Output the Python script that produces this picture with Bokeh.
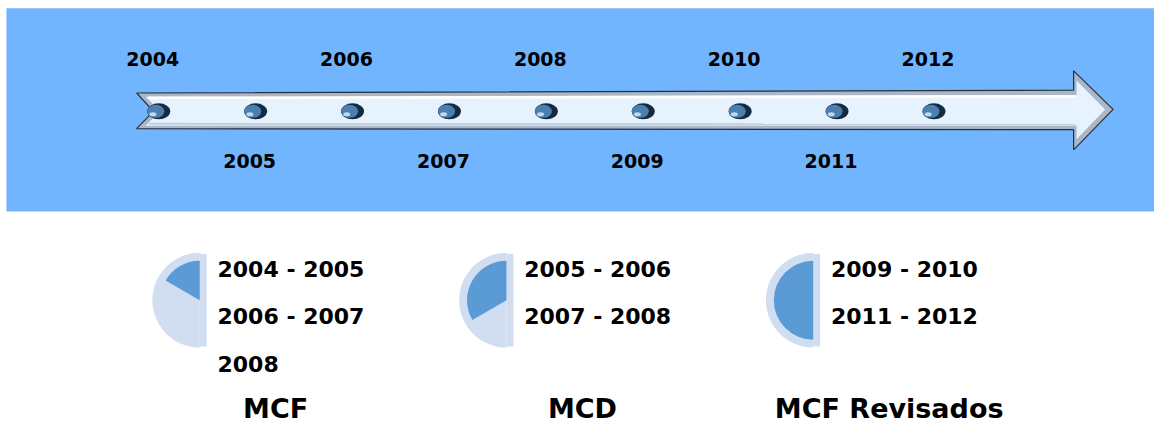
from bokeh.plotting import figure
from bokeh.models import Range1d, ColumnDataSource
from bokeh.core.properties import value
from bokeh.embed import file_html
from bokeh.resources import INLINE

# ---------------- data ----------------
years = [2004, 2005, 2006, 2007, 2008, 2009, 2010, 2011, 2012]
year_labels = ["2004", "2005", "2006", "2007", "2008", "2009", "2010", "2011", "2012"]
label_side = ["above", "below", "above", "below", "above", "below", "above", "below", "above"]

groups = ["MCF", "MCD", "MCF Revisados"]
group_periods = [
    ["2004 - 2005", "2006 - 2007", "2008"],
    ["2005 - 2006", "2007 - 2008"],
    ["2009 - 2010", "2011 - 2012"],
]
group_progress = [1 / 6, 1 / 3, 1 / 2]   # share of the full circle that is highlighted

# ---------------- layout helpers ----------------
W, H = 1154, 424          # canvas size (fits the 1170x440 window with its 8px margin)
RW, RH = 1170, 440        # design space
FONT = value("DejaVu Sans")


def Y(py):
    """design row (top-down) -> data y (bottom-up)"""
    return RH - py


p = figure(width=W, height=H, x_range=Range1d(0, RW), y_range=Range1d(0, RH),
           output_backend="svg", toolbar_location=None, min_border=0,
           x_axis_location=None, y_axis_location=None,
           background_fill_color="white", border_fill_color="white",
           outline_line_color=None)
p.grid.visible = False
# timeline scale in years
p.extra_x_ranges = {"years": Range1d(2002.367, 2014.276)}

# background band
p.quad(left=6, right=1170, bottom=Y(219), top=Y(8), fill_color="#71B5FF", line_color=None)

# arrow (outer bevel + inner face)
outer_x = [138, 1088, 1088, 1128, 1088, 1088, 138, 155]
outer_y = [96, 93, 73, 113, 155, 134, 133, 115]
p.patch(outer_x, [Y(v) for v in outer_y], fill_color="#A9B7C8", line_color="#2B2F36", line_width=1.2)
inner_x = [147, 1091, 1091, 1120, 1091, 1091, 147, 162]
inner_y = [100, 98, 83, 113, 144, 130, 130, 115]
p.patch(inner_x, [Y(v) for v in inner_y], fill_color="#E6F2FD", line_color=None)
p.line([150, 1090], [Y(101), Y(99.5)], line_color="white", line_width=2.5)
p.line([150, 1090], [Y(128), Y(128.5)], line_color="#C3D0DE", line_width=2)

# dots
dots = ColumnDataSource(dict(x=years, y=[Y(115)] * len(years)))
p.ellipse(x="x", y="y", width=23, height=16, width_units="screen", height_units="screen",
          fill_color="#15293F", line_color=None, source=dots, x_range_name="years")
p.ellipse(x=[v - 0.03 for v in years], y=[Y(115)] * len(years), width=17, height=13,
          width_units="screen", height_units="screen",
          fill_color="#4A7FAF", line_color=None, x_range_name="years")
p.ellipse(x=[v - 0.06 for v in years], y=[Y(118)] * len(years), width=7, height=4,
          width_units="screen", height_units="screen",
          fill_color="#BFD9EE", line_color=None, x_range_name="years")

# year labels
lab_y = [Y(61) if s == "above" else Y(167) for s in label_side]
p.text(x=years, y=lab_y, text=year_labels, x_range_name="years", x_offset=-6,
       text_font=FONT, text_font_style="bold", text_font_size="19px",
       text_align="center", text_baseline="middle", text_color="black")

# progress pies with period lists
for i, g in enumerate(groups):
    cx = 202 + 311 * i
    cy = Y(311)
    p.wedge(x=cx, y=cy, radius=48, start_angle=90, end_angle=270,
            start_angle_units="deg", end_angle_units="deg",
            fill_color="#D1DDF0", line_color=None)
    p.quad(left=cx, right=cx + 7, bottom=cy - 48, top=cy + 48, fill_color="#D1DDF0", line_color=None)
    p.wedge(x=cx, y=cy, radius=40, start_angle=90, end_angle=90 + 360 * group_progress[i],
            start_angle_units="deg", end_angle_units="deg",
            fill_color="#5B9BD5", line_color=None)
    periods = group_periods[i]
    p.text(x=[cx + 18] * len(periods), y=[Y(279 + 49 * j) for j in range(len(periods))],
           text=periods, text_font=FONT, text_font_style="bold", text_font_size="22px",
           text_align="left", text_baseline="middle", text_color="black")
    p.text(x=[cx + 77], y=[Y(423)], text=[g], text_font=FONT, text_font_style="bold",
           text_font_size="27px", text_align="center", text_baseline="middle", text_color="black")

open("out.html", "w").write(file_html(p, INLINE))
